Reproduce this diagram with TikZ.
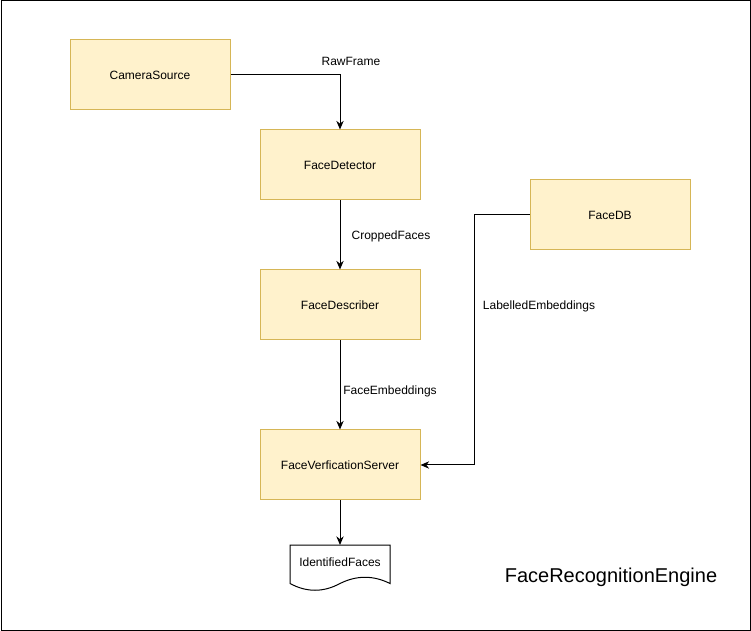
\documentclass[tikz,border=0pt]{standalone}
\usepackage{fontspec}
\setmainfont{Liberation Sans}
\usetikzlibrary{arrows.meta}
\definecolor{boxfill}{HTML}{FFF2CC}
\definecolor{boxline}{HTML}{D6B656}
\tikzset{
  stage/.style={draw=boxline, fill=boxfill, line width=0.75pt, minimum width=120pt,
    minimum height=52.5pt, inner sep=0pt, font=\fontsize{9}{11}\selectfont},
  lbl/.style={inner sep=0pt, font=\fontsize{9}{11}\selectfont},
  flow/.style={line width=0.75pt, -{Stealth[length=6.5pt,width=5.5pt]}}
}
\begin{document}
\begin{tikzpicture}[x=0.75pt, y=-0.75pt]

  \useasboundingbox (0,0) rectangle (751,631);
  \draw[line width=0.75pt] (1,1) rectangle (750,630);

  % boxes
  \node[stage] (cam) at (150,75)  {CameraSource};
  \node[stage] (det) at (340,165) {FaceDetector};
  \node[stage] (dsc) at (340,305) {FaceDescriber};
  \node[stage] (srv) at (340,465) {FaceVerficationServer};
  \node[stage] (db)  at (610,215) {FaceDB};

  % output document
  \draw[line width=0.75pt, fill=white] (290,545) -- (390,545) -- (390,583.5)
    .. controls (373.3,575.2) and (356.7,575.2) .. (340,583.5)
    .. controls (323.3,592.5) and (306.7,592.5) .. (290,583.5) -- cycle;
  \coordinate (outtop) at (340,545);
  \node[lbl] (out) at (340,562) {IdentifiedFaces};

  % connectors
  \draw[flow] (cam.east) -| (det.north); % cam->det
  \draw[flow] (det.south) -- (dsc.north); % det->dsc
  \draw[flow] (dsc.south) -- (srv.north); % dsc->srv
  \draw[flow] (db.west) -- ++(-55,0) |- (srv.east); % db->srv
  \draw[flow] (srv.south) -- (outtop); % srv->out

  % labels
  \node[lbl] (rawlbl) at (351,61)  {RawFrame};
  \node[lbl] (croplbl) at (391,236) {CroppedFaces};
  \node[lbl] (emblbl) at (390,391) {FaceEmbeddings};
  \node[lbl] (dblbl) at (539,306) {LabelledEmbeddings};

  \node[inner sep=0pt, font=\fontsize{15}{18}\selectfont] (title) at (611,577) {FaceRecognitionEngine};

\end{tikzpicture}
\end{document}
